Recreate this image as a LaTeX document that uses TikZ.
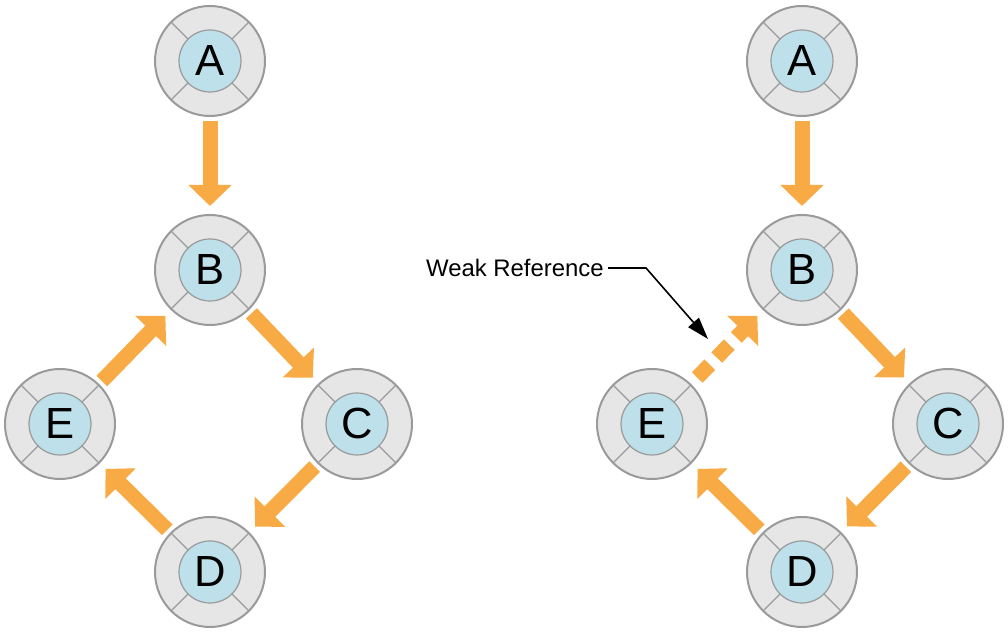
\documentclass[tikz,border=0pt]{standalone}
\usepackage{fontspec}
\setmainfont{Liberation Sans}
\usetikzlibrary{arrows.meta,calc}
\definecolor{ringgray}{HTML}{9A9A9A}
\definecolor{ringfill}{HTML}{E6E6E6}
\definecolor{corefill}{HTML}{BDE0EA}
\definecolor{refor}{HTML}{F8AB45}

\begin{document}
\begin{tikzpicture}[
  x=0.25mm, y=0.25mm,
  obj/.style={circle, draw=ringgray, line width=0.5mm, fill=ringfill,
    minimum size=27.5mm, inner sep=0pt,
    font=\fontsize{31}{31}\selectfont,
    path picture={
      \coordinate (c) at (path picture bounding box.center);
      \foreach \ang in {45,135,225,315}
        \draw[ringgray, line width=0.3mm]
          ($(c)+(\ang:7.75mm)$) -- ($(c)+(\ang:14mm)$);
      \draw[ringgray, line width=0.3mm, fill=corefill] (c) circle (7.75mm);
    }},
  flow/.style={-{Triangle[length=5.25mm, width=10.5mm]}, line width=3.75mm,
    draw=refor, shorten <=1mm, shorten >=2mm},
  weakflow/.style={flow, dash pattern=on 4.5mm off 2.5mm, shorten <=2.2mm},
  pointer/.style={-{Triangle[length=5.5mm, width=3.5mm]}, line width=0.4mm,
    draw=black},
  note/.style={font=\fontsize{17}{17}\selectfont, anchor=east,
    inner sep=1mm},
]
\useasboundingbox (0,0) rectangle (1008,633);

% ---- left: strong cycle ---------------------------------------------------
\node[obj] (lA) at (210,572) {A};
\node[obj] (lB) at (210,363) {B};
\node[obj] (lC) at (357,209) {C};
\node[obj] (lD) at (210,61)  {D};
\node[obj] (lE) at (60,209)  {E};

\foreach \a/\b in {lA/lB, lB/lC, lC/lD, lD/lE, lE/lB}
  \draw[flow] (\a) -- (\b);

% ---- right: cycle broken by a weak reference ------------------------------
\node[obj] (rA) at (802,572) {A};
\node[obj] (rB) at (802,363) {B};
\node[obj] (rC) at (948,209) {C};
\node[obj] (rD) at (802,61)  {D};
\node[obj] (rE) at (652,209) {E};

\foreach \a/\b in {rA/rB, rB/rC, rC/rD, rD/rE}
  \draw[flow] (\a) -- (\b);
\draw[weakflow] (rE) -- (rB);

% ---- callout --------------------------------------------------------------
\node[note] (weak) at (608,365) {Weak Reference};
\coordinate (weaktip) at (708,294);
\draw[pointer] (weak.east) -- ++(38,0) -- (weaktip);

\end{tikzpicture}
\end{document}
